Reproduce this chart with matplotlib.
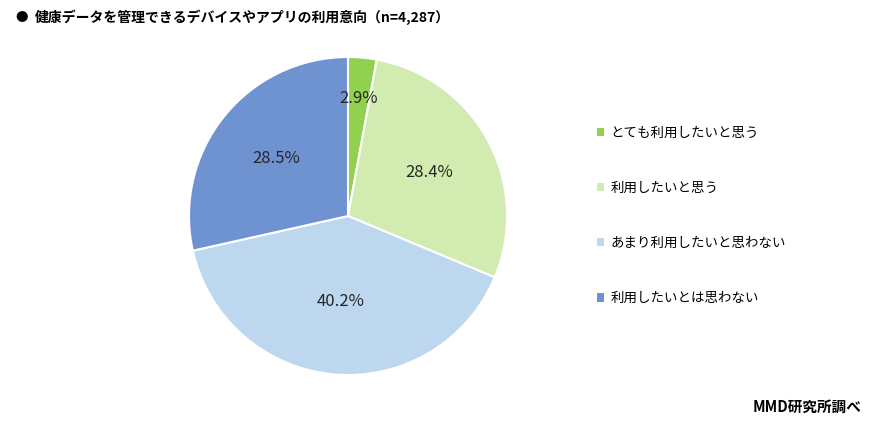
import matplotlib
matplotlib.use("Agg")
import matplotlib.pyplot as plt
from matplotlib.patches import Patch
import numpy as np

plt.rcParams['font.family'] = ['Noto Sans CJK JP', 'DejaVu Sans']

labels = ["とても利用したいと思う", "利用したいと思う", "あまり利用したいと思わない", "利用したいとは思わない"]
values = [2.9, 28.4, 40.2, 28.5]
colors = ["#92D050", "#D1EBB1", "#BDD7EE", "#6F92D1"]
label_dist = [0.74, 0.58, 0.54, 0.58]

W, H = 874, 423
fig = plt.figure(figsize=(W / 100, H / 100), dpi=100)

# pie placed by pixel centre and radius
cx, cy, r = 348, 216, 159
ax = fig.add_axes([(cx - r) / W, (H - cy - r) / H, 2 * r / W, 2 * r / H])
wedges, texts, autotexts = ax.pie(values, colors=colors, startangle=90, counterclock=False,
                                  autopct="%.1f%%", pctdistance=0.58,
                                  wedgeprops=dict(edgecolor="white", linewidth=1.5),
                                  textprops=dict(fontsize=12, color="#262626"))
for w, t, d in zip(wedges, autotexts, label_dist):
    ang = np.deg2rad((w.theta1 + w.theta2) / 2)
    t.set_position((d * np.cos(ang), d * np.sin(ang)))
ax.set_xlim(-1, 1)
ax.set_ylim(-1, 1)
ax.set_aspect("equal")
ax.axis("off")

handles = [Patch(facecolor=c, edgecolor="none") for c in colors]
fig.legend(handles, labels, loc="upper left", bbox_to_anchor=(597 / W, 1 - 126 / H),
           frameon=False, fontsize=9.7, handlelength=0.55, handleheight=0.55,
           handletextpad=0.45, labelspacing=3.05, borderaxespad=0, borderpad=0)

fig.text(15 / W, 1 - 17 / H, "●", fontsize=9, fontweight="bold", va="center", ha="left")
fig.text(35 / W, 1 - 17 / H, "健康データを管理できるデバイスやアプリの利用意向（n=4,287）",
         fontsize=10, fontweight="bold", va="center", ha="left")
fig.text(862 / W, 1 - 407 / H, "MMD研究所調べ", fontsize=10.5, fontweight="bold",
         va="center", ha="right")

fig.savefig("out.png", dpi=100)
